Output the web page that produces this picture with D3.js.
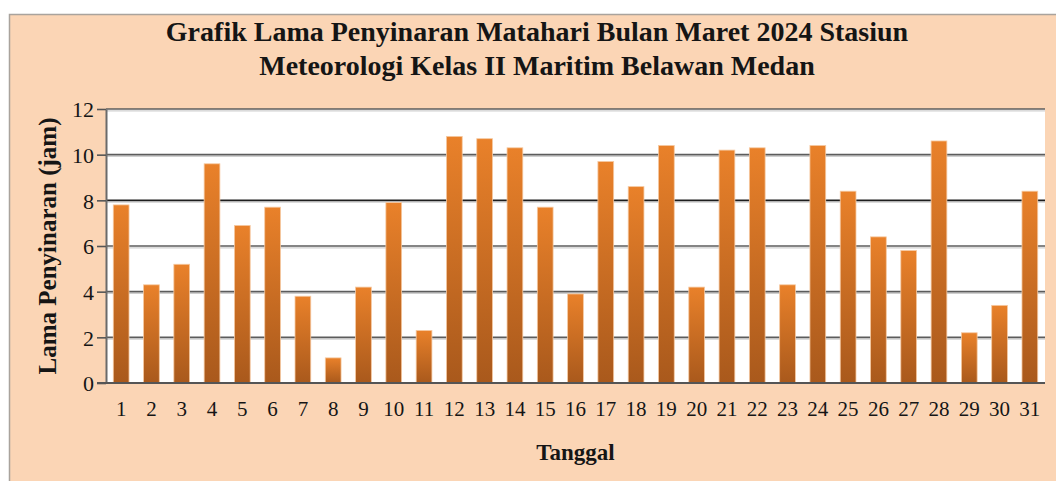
<!DOCTYPE html>
<html>
<head>
<meta charset="utf-8">
<script src="https://cdn.jsdelivr.net/npm/d3@7/dist/d3.min.js"></script>
<style>
  body { margin: 0; background: #ffffff; }
  svg text { font-family: "Liberation Serif", "Times New Roman", serif; fill: #151515; }
</style>
</head>
<body>
<div id="chart"></div>
<script>
// Chart data
var tanggal = ["1", "2", "3", "4", "5", "6", "7", "8", "9", "10", "11", "12", "13", "14", "15", "16",
  "17", "18", "19", "20", "21", "22", "23", "24", "25", "26", "27", "28", "29", "30", "31"];
var lamaPenyinaran = [7.8, 4.3, 5.2, 9.6, 6.9, 7.7, 3.8, 1.1, 4.2, 7.9, 2.3, 10.8, 10.7, 10.3, 7.7, 3.9,
  9.7, 8.6, 10.4, 4.2, 10.2, 10.3, 4.3, 10.4, 8.4, 6.4, 5.8, 10.6, 2.2, 3.4, 8.4];
var yTicks = [0, 2, 4, 6, 8, 10, 12];
var judul = ["Grafik Lama Penyinaran Matahari Bulan Maret 2024 Stasiun",
  "Meteorologi Kelas II Maritim Belawan Medan"];
var judulX = "Tanggal";
var judulY = "Lama Penyinaran (jam)";

// Canvas attributes
var width = 1056;
var height = 481;
var plotLeft = 106;
var plotRight = 1045;
var plotTop = 109;
var plotBottom = 383;

var svg = d3
  .select("#chart")
  .append("svg")
  .attr("width", width)
  .attr("height", height);

// Bar gradient
var grad = svg.append("defs")
  .append("linearGradient")
  .attr("id", "barGrad")
  .attr("x1", 0).attr("y1", 0)
  .attr("x2", 0).attr("y2", 1);
grad.append("stop").attr("offset", "0%").attr("stop-color", "#e9812a");
grad.append("stop").attr("offset", "100%").attr("stop-color", "#a9591c");

// Peach panel behind everything
svg.append("rect")
  .attr("x", 9.5)
  .attr("y", 14.5)
  .attr("width", 1060)
  .attr("height", 480)
  .attr("fill", "#fbd5b5")
  .attr("stroke", "#a9a39d")
  .attr("stroke-width", 1.5);

// Plot area
svg.append("rect")
  .attr("x", plotLeft)
  .attr("y", plotTop)
  .attr("width", plotRight - plotLeft)
  .attr("height", plotBottom - plotTop)
  .attr("fill", "#ffffff");

// Scales
var xScale = d3.scaleBand()
  .domain(tanggal)
  .range([plotLeft, plotRight])
  .paddingInner(0.48)
  .paddingOuter(0.24);
var yScale = d3.scaleLinear()
  .domain([0, 12])
  .range([plotBottom, plotTop]);

// Gridlines (with a soft shadow line under each)
var grid = svg.append("g").attr("class", "grid");
grid.selectAll("line.shadow")
  .data(yTicks.filter(function(d) { return d > 0; }))
  .enter()
  .append("line")
  .attr("class", "shadow")
  .attr("x1", plotLeft)
  .attr("x2", plotRight)
  .attr("y1", function(d) { return yScale(d) + 1.8; })
  .attr("y2", function(d) { return yScale(d) + 1.8; })
  .attr("stroke", "#cfcfcf")
  .attr("stroke-width", 1.2);
grid.selectAll("line.main")
  .data(yTicks.filter(function(d) { return d > 0; }))
  .enter()
  .append("line")
  .attr("class", "main")
  .attr("x1", plotLeft)
  .attr("x2", plotRight)
  .attr("y1", function(d) { return yScale(d); })
  .attr("y2", function(d) { return yScale(d); })
  .attr("stroke", function(d) { return d === 8 ? "#1e1e1e" : "#5c5c5c"; })
  .attr("stroke-width", 1.6);

// Bars
svg.append("g")
  .selectAll("rect")
  .data(lamaPenyinaran)
  .enter()
  .append("rect")
  .attr("x", function(d, i) { return xScale(tanggal[i]); })
  .attr("y", function(d) { return yScale(d); })
  .attr("width", xScale.bandwidth())
  .attr("height", function(d) { return plotBottom - yScale(d); })
  .attr("fill", "url(#barGrad)")
  .attr("stroke", "#f6c9a1")
  .attr("stroke-width", 0.8);

// Y axis
var yAxis = d3.axisLeft(yScale)
  .tickValues(yTicks)
  .tickSize(9)
  .tickPadding(3)
  .tickSizeOuter(0);
var yAxisG = svg.append("g")
  .attr("transform", "translate(" + plotLeft + ",0)")
  .call(yAxis);
yAxisG.select(".domain").attr("stroke", "#6a6a6a").attr("stroke-width", 2);
yAxisG.selectAll(".tick line").attr("stroke", "#555555").attr("stroke-width", 1.6);
yAxisG.selectAll(".tick text")
  .attr("font-size", 22)
  .attr("dy", "0.36em")
  .style("font-family", "'Liberation Serif', 'Times New Roman', serif")
  .attr("fill", "#151515");

// X axis
var xAxis = d3.axisBottom(xScale)
  .tickSize(0)
  .tickPadding(18)
  .tickSizeOuter(0);
var xAxisG = svg.append("g")
  .attr("transform", "translate(0," + plotBottom + ")")
  .call(xAxis);
xAxisG.select(".domain").remove();
xAxisG.selectAll(".tick text")
  .attr("font-size", 21)
  .style("font-family", "'Liberation Serif', 'Times New Roman', serif")
  .attr("fill", "#151515");

// Bottom axis line
svg.append("line")
  .attr("x1", plotLeft - 9)
  .attr("x2", plotRight)
  .attr("y1", plotBottom)
  .attr("y2", plotBottom)
  .attr("stroke", "#555555")
  .attr("stroke-width", 2);

// Title
svg.append("g")
  .selectAll("text")
  .data(judul)
  .enter()
  .append("text")
  .attr("x", 537)
  .attr("y", function(d, i) { return 41 + i * 34; })
  .attr("text-anchor", "middle")
  .attr("font-size", 28)
  .attr("font-weight", "bold")
  .text(function(d) { return d; });

// Axis titles
svg.append("text")
  .attr("x", (plotLeft + plotRight) / 2)
  .attr("y", 460)
  .attr("text-anchor", "middle")
  .attr("font-size", 23)
  .attr("font-weight", "bold")
  .text(judulX);

svg.append("text")
  .attr("transform", "translate(56," + ((plotTop + plotBottom) / 2) + ")rotate(-90)")
  .attr("text-anchor", "middle")
  .attr("font-size", 25)
  .attr("font-weight", "bold")
  .text(judulY);
</script>
</body>
</html>
